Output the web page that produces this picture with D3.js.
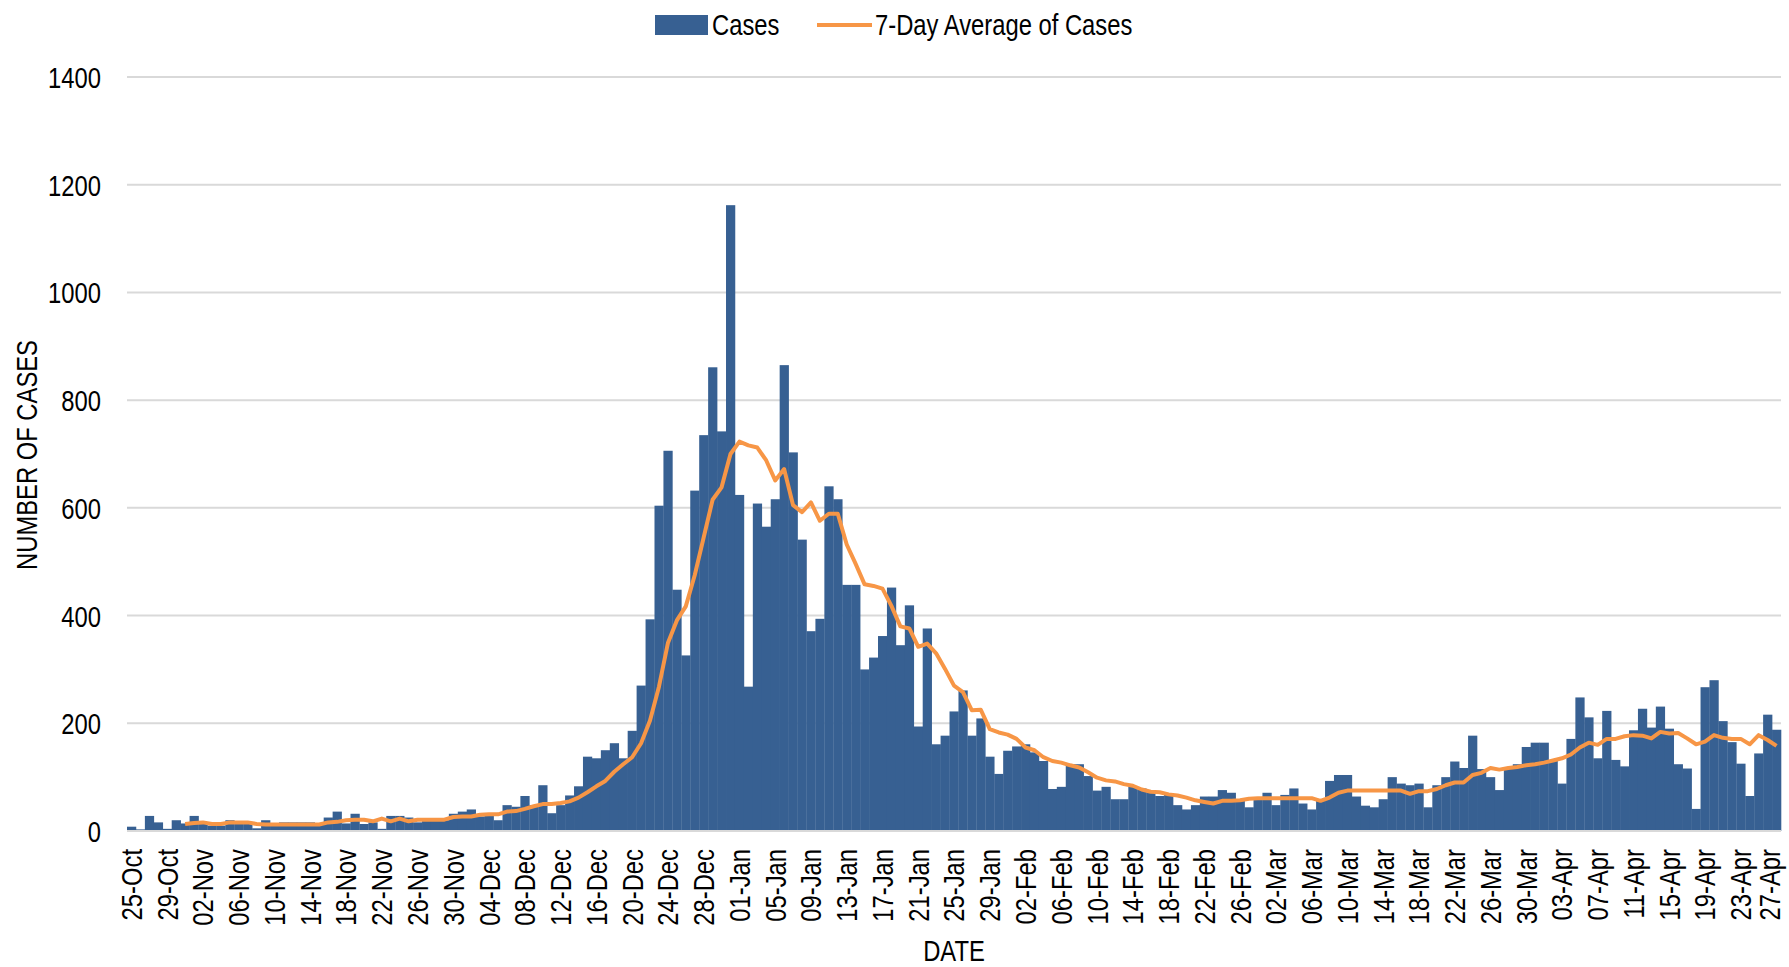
<!DOCTYPE html>
<html>
<head>
<meta charset="utf-8">
<script src="https://cdn.jsdelivr.net/npm/d3@7"></script>
<style>
  html, body { margin: 0; padding: 0; background: #fff; }
  svg text { font-family: "Liberation Sans Narrow", "Arial Narrow", "Liberation Sans", Arial, sans-serif; fill: #000; }
</style>
</head>
<body>
<svg id="chart" width="1789" height="967"></svg>
<script>
// ---- Data ----
const startDate = "2021-10-25";
const endDate = "2022-04-27";

const cases = [
  8, 3, 28, 16, 4, 20, 14, 28, 16, 10,
  10, 20, 18, 16, 5, 20, 14, 16, 16, 16,
  16, 14, 25, 36, 14, 32, 13, 16, 4, 28,
  28, 25, 16, 20, 20, 20, 32, 36, 40, 27,
  32, 20, 48, 45, 65, 48, 85, 33, 48, 66,
  83, 138, 135, 150, 163, 135, 186, 270, 393, 604,
  706, 448, 326, 632, 735, 861, 742, 1162, 624, 268,
  608, 565, 616, 865, 703, 541, 371, 394, 640, 616,
  457, 457, 300, 322, 362, 452, 345, 419, 194, 376,
  161, 177, 222, 261, 177, 209, 138, 106, 149, 157,
  161, 146, 130, 78, 82, 124, 124, 102, 75, 82,
  59, 59, 82, 79, 73, 65, 70, 48, 40, 48,
  64, 64, 76, 71, 59, 44, 58, 71, 48, 67,
  79, 51, 40, 58, 93, 104, 104, 64, 47, 44,
  59, 100, 88, 85, 88, 44, 85, 100, 129, 117,
  177, 115, 100, 76, 118, 124, 156, 164, 164, 131,
  88, 171, 248, 211, 135, 223, 132, 120, 187, 227,
  192, 231, 190, 124, 116, 41, 267, 280, 204, 165,
  125, 65, 144, 216, 188
];

// 7-day average, starting on the 7th day (31-Oct)
const avg7 = [
  null, null, null, null, null, null,
  13, 15, 16, 13, 13, 16, 16, 16, 13, 12,
  12, 12, 12, 12, 12, 12, 16, 17, 20, 21,
  21, 18, 23, 18, 23, 18, 21, 21, 21, 21,
  26, 27, 27, 30, 31, 31, 36, 37, 41, 46,
  50, 50, 52, 55, 62, 72, 83, 93, 110, 124,
  137, 163, 205, 268, 349, 391, 417, 475, 545, 615,
  638, 700, 723, 716, 712, 688, 651, 672, 605, 592,
  610, 576, 589, 589, 532, 496, 458, 455, 450, 418,
  380, 376, 342, 348, 330, 301, 270, 258, 224, 225,
  189, 183, 179, 171, 155, 150, 137, 130, 127, 122,
  118, 109, 99, 94, 92, 87, 84, 77, 73, 72,
  68, 66, 62, 57, 54, 51, 56, 56, 57, 60,
  61, 61, 61, 61, 61, 61, 61, 56, 62, 71,
  75, 75, 75, 75, 75, 75, 75, 69, 74, 74,
  78, 85, 90, 90, 104, 108, 117, 114, 117, 119,
  122, 124, 127, 131, 135, 142, 155, 164, 160, 171,
  171, 176, 178, 177, 172, 184, 181, 182, 172, 161,
  166, 178, 173, 171, 171, 161, 178, 169, 158
];

const tickLabels = [
  "25-Oct","29-Oct","02-Nov","06-Nov","10-Nov","14-Nov","18-Nov","22-Nov","26-Nov","30-Nov",
  "04-Dec","08-Dec","12-Dec","16-Dec","20-Dec","24-Dec","28-Dec","01-Jan","05-Jan","09-Jan",
  "13-Jan","17-Jan","21-Jan","25-Jan","29-Jan","02-Feb","06-Feb","10-Feb","14-Feb","18-Feb",
  "22-Feb","26-Feb","02-Mar","06-Mar","10-Mar","14-Mar","18-Mar","22-Mar","26-Mar","30-Mar",
  "03-Apr","07-Apr","11-Apr","15-Apr","19-Apr","23-Apr","27-Apr"
];
const yTicks = [0, 200, 400, 600, 800, 1000, 1200, 1400];

const seriesNames = ["Cases", "7-Day Average of Cases"];
const xTitle = "DATE";
const yTitle = "NUMBER OF CASES";

// ---- Build categories ----
const parse = d3.utcParse("%Y-%m-%d");
const fmt = d3.utcFormat("%d-%b");
const dates = d3.utcDay.range(parse(startDate), d3.utcDay.offset(parse(endDate), 1));
const categories = dates.map(fmt);
const data = categories.map((c, i) => ({ cat: c, cases: cases[i], avg: avg7[i] }));

// ---- Layout ----
const svg = d3.select("#chart");
const plotLeft = 127, plotRight = 1781, plotTop = 77, plotBottom = 831;

const x = d3.scaleBand().domain(categories).range([plotLeft, plotRight]).padding(0);
const y = d3.scaleLinear().domain([0, 1400]).range([plotBottom, plotTop]);

const barColor = "#376092";
const lineColor = "#F79646";
const fontSize = 29;

// gridlines
svg.append("g")
  .selectAll("line")
  .data(yTicks)
  .join("line")
  .attr("x1", plotLeft).attr("x2", plotRight)
  .attr("y1", d => y(d)).attr("y2", d => y(d))
  .attr("stroke", "#d9d9d9")
  .attr("stroke-width", 2);

// bars
svg.append("g")
  .selectAll("rect")
  .data(data)
  .join("rect")
  .attr("x", d => x(d.cat))
  .attr("width", x.bandwidth() + 0.3)
  .attr("y", d => y(d.cases))
  .attr("height", d => y(0) - y(d.cases))
  .attr("fill", barColor);

// baseline
svg.append("line")
  .attr("x1", plotLeft).attr("x2", plotRight)
  .attr("y1", y(0)).attr("y2", y(0))
  .attr("stroke", "#d9d9d9").attr("stroke-width", 2);

// line
const line = d3.line()
  .defined(d => d.avg !== null)
  .x(d => x(d.cat) + x.bandwidth() / 2)
  .y(d => y(d.avg));
svg.append("path")
  .datum(data)
  .attr("d", line)
  .attr("fill", "none")
  .attr("stroke", lineColor)
  .attr("stroke-width", 4)
  .attr("stroke-linejoin", "round");

// y axis
const yAxis = d3.axisLeft(y).tickValues(yTicks).tickFormat(d3.format("d")).tickSize(0).tickPadding(0);
const gy = svg.append("g").attr("transform", "translate(101,0)").call(yAxis);
gy.select(".domain").remove();
gy.selectAll("text").style("font-size", fontSize + "px").attr("dy", "0.36em");

// x axis
const xAxis = d3.axisBottom(x).tickValues(tickLabels).tickSize(0).tickPadding(0);
const gx = svg.append("g").attr("transform", `translate(0,${plotBottom})`).call(xAxis);
gx.select(".domain").remove();
gx.selectAll("text")
  .style("font-size", fontSize + "px")
  .attr("text-anchor", "end")
  .attr("transform", "rotate(-90)")
  .attr("x", -18)
  .attr("y", 0)
  .attr("dy", (d, i, n) => i === n.length - 1 ? "0.12em" : "0.36em");

// axis titles
svg.append("text")
  .attr("transform", "translate(37,455) rotate(-90)")
  .attr("text-anchor", "middle")
  .style("font-size", fontSize + "px")
  .text(yTitle);
svg.append("text")
  .attr("x", 954).attr("y", 961)
  .attr("text-anchor", "middle")
  .style("font-size", fontSize + "px")
  .text(xTitle);

// legend
const lg = svg.append("g");
lg.append("rect").attr("x", 655).attr("y", 15).attr("width", 53).attr("height", 20).attr("fill", barColor);
lg.append("text").attr("x", 712).attr("y", 35).style("font-size", fontSize + "px").text(seriesNames[0]);
lg.append("line").attr("x1", 817).attr("x2", 872).attr("y1", 25).attr("y2", 25)
  .attr("stroke", lineColor).attr("stroke-width", 4);
lg.append("text").attr("x", 875).attr("y", 35).style("font-size", fontSize + "px").text(seriesNames[1]);

// condense all text to match the narrow face of the original
svg.selectAll("text").each(function () {
  const w = this.getComputedTextLength();
  this.setAttribute("textLength", (w * 0.82).toFixed(1));
  this.setAttribute("lengthAdjust", "spacingAndGlyphs");
});
</script>
</body>
</html>
